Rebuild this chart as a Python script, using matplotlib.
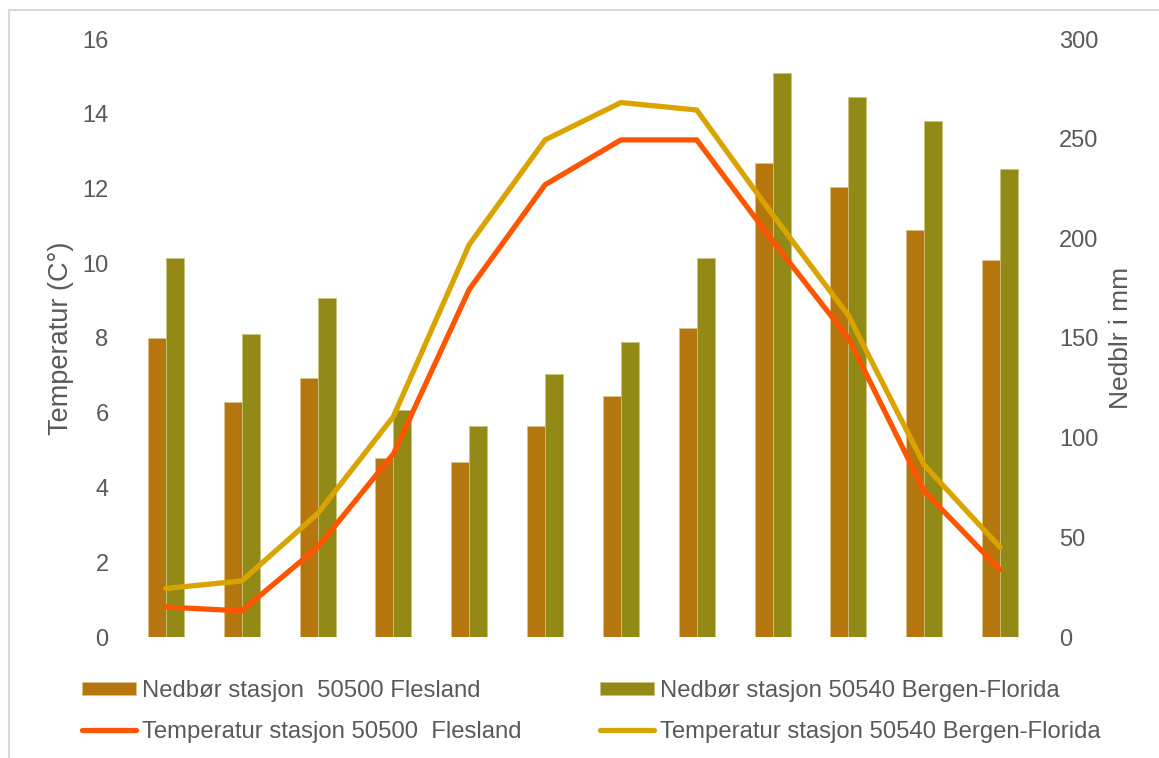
import numpy as np
import matplotlib
matplotlib.use('Agg')
import matplotlib.pyplot as plt
from matplotlib.lines import Line2D

plt.rcParams['font.family'] = ['Liberation Sans', 'DejaVu Sans']

months = np.arange(12)
# nedbør (mm)
rain_flesland = [150, 118, 130, 90, 88, 106, 121, 155, 238, 226, 204, 189]
rain_bergen = [190, 152, 170, 114, 106, 132, 148, 190, 283, 271, 259, 235]
# temperatur (C)
temp_flesland = [0.8, 0.7, 2.4, 4.9, 9.3, 12.1, 13.3, 13.3, 10.6, 8.0, 3.9, 1.8]
temp_bergen = [1.3, 1.5, 3.3, 5.9, 10.5, 13.3, 14.3, 14.1, 11.3, 8.6, 4.6, 2.4]

labels = ['Nedbør stasjon  50500 Flesland',
          'Nedbør stasjon 50540 Bergen-Florida',
          'Temperatur stasjon 50500  Flesland',
          'Temperatur stasjon 50540 Bergen-Florida']

c_bar1 = '#B5760E'
c_bar2 = '#928917'
c_line1 = '#FF5500'
c_line2 = '#DAA400'
grey = '#595959'

W, H = 1159, 758
fig = plt.figure(figsize=(W / 100, H / 100), dpi=100)
ax = fig.add_axes([128 / W, 1 - 637 / H, 910 / W, 598 / H])
ax2 = ax.twinx()

bw = 0.2375
b1 = ax2.bar(months - bw / 2, rain_flesland, bw, color=c_bar1, edgecolor='#d9c08a', linewidth=0.6)
b2 = ax2.bar(months + bw / 2, rain_bergen, bw, color=c_bar2, edgecolor='#c8c27a', linewidth=0.6)

l1, = ax.plot(months, temp_flesland, color=c_line1, lw=3.8, solid_capstyle='round')
l2, = ax.plot(months, temp_bergen, color=c_line2, lw=3.8, solid_capstyle='round')

# linjene skal ligge over søylene
ax.set_zorder(ax2.get_zorder() + 1)
ax.patch.set_visible(False)

ax.set_xlim(-0.5, 11.5)
ax.set_ylim(0, 16)
ax.set_yticks(range(0, 17, 2))
ax2.set_ylim(0, 300)
ax2.set_yticks(range(0, 301, 50))
ax.set_xticks([])

for a in (ax, ax2):
    for s in a.spines.values():
        s.set_visible(False)
    a.tick_params(axis='y', length=0, labelsize=17, labelcolor=grey)
ax.tick_params(axis='y', pad=14)
ax2.tick_params(axis='y', pad=15)

ax.set_ylabel('Temperatur (C°)', fontsize=19.5, color=grey, labelpad=6)
ax2.set_ylabel('Nedblr i mm', fontsize=19, color=grey, labelpad=8)

fig.legend([b1, l1, b2, l2], [labels[0], labels[2], labels[1], labels[3]],
           ncol=2, loc='upper left', bbox_to_anchor=(70 / W, 1 - 668 / H),
           frameon=False, fontsize=17.2, labelcolor=grey, borderpad=0,
           handlelength=2.25, handleheight=0.5, handletextpad=0.25,
           columnspacing=3.3, labelspacing=0.8)

# ramme rundt diagrammet
fig.add_artist(Line2D([9 / W, 1], [1 - 10 / H] * 2, color='#d9d9d9', lw=1.5))
fig.add_artist(Line2D([9 / W] * 2, [0, 1 - 10 / H], color='#d9d9d9', lw=1.5))

fig.savefig('out.png', dpi=100, facecolor='white')
